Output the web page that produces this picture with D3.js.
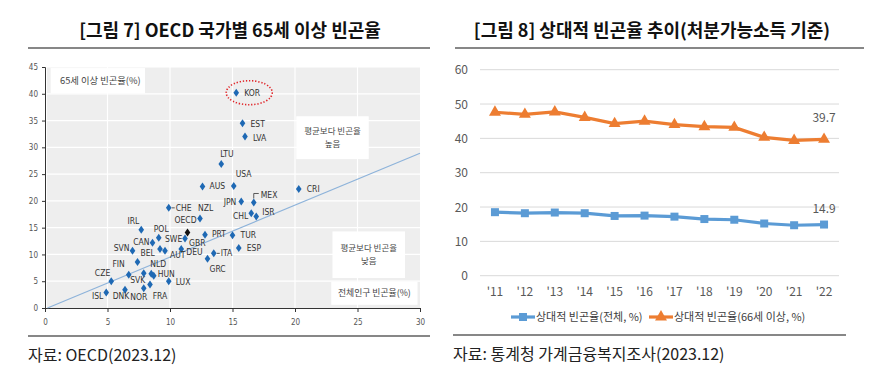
<!DOCTYPE html>
<html>
<head>
<meta charset="utf-8">
<script src="https://cdn.jsdelivr.net/npm/d3@7"></script>
<style>
  body { margin: 0; background: #fff; }
  svg { display: block; }
  .kr { font-family: "Noto Sans CJK KR", "Noto Sans", sans-serif; }
  .nar { font-family: "Liberation Sans Narrow", "DejaVu Sans Condensed", sans-serif; font-stretch: condensed; }
</style>
</head>
<body>
<svg width="872" height="372"></svg>
<script>
// left chart: OECD countries, total vs 65+ poverty rate (%)
const countries = ["KOR","EST","LVA","LTU","USA","AUS","CRI","MEX","JPN","CHL","ISR","TUR","ESP","ITA","GRC","PRT","NZL","CHE","OECD","GBR","DEU","SWE","AUT","POL","IRL","CAN","SVN","BEL","FIN","CZE","ISL","DNK","NOR","FRA","SVK","NLD","HUN","LUX"];
const totalPoverty = [15.3,15.8,16.0,14.1,15.1,12.6,20.3,16.7,15.7,16.5,16.9,15.0,15.5,13.5,13.0,12.8,12.4,9.9,11.4,11.2,10.9,9.2,9.6,9.1,7.7,8.6,7.0,7.4,6.7,5.3,4.9,6.4,7.9,8.4,7.9,8.5,8.7,9.9];
const elderlyPoverty = [40.2,34.5,32.0,26.9,22.8,22.7,22.2,19.7,19.9,17.7,17.1,13.6,11.2,10.2,9.2,13.7,16.7,18.7,14.1,13.0,11.0,11.0,10.7,13.1,14.6,12.2,10.7,8.6,6.2,5.0,2.9,3.4,3.7,4.4,6.5,6.4,6.0,5.0];
const trendLine = [[0.2, 0], [30, 28.9]];
const xTicksLeft = [0,5,10,15,20,25,30];
const yTicksLeft = [0,5,10,15,20,25,30,35,40,45];

// right chart: relative poverty rate trend
const years = ["'11","'12","'13","'14","'15","'16","'17","'18","'19","'20","'21","'22"];
const rateAll = [18.5,18.2,18.4,18.2,17.4,17.5,17.2,16.5,16.3,15.2,14.7,14.9];
const rateElderly = [47.6,47.0,47.7,46.1,44.3,45.0,44.0,43.4,43.2,40.3,39.4,39.7];
const yTicksRight = [0,10,20,30,40,50,60];
const seriesNames = ["상대적 빈곤율(전체, %)", "상대적 빈곤율(66세 이상, %)"];

// label placement for the scatter: [anchor, dx, dy]
const labelPlace = {
  KOR:["start",8,3], EST:["start",8,4], LVA:["start",8,4], LTU:["start",-1,-7],
  USA:["start",2,-9], AUS:["start",7,3], CRI:["start",8,3], MEX:["start",7,-4],
  JPN:["end",-5,4], CHL:["end",-3,6], ISR:["start",6,-1], TUR:["start",8,3],
  ESP:["start",8,3], ITA:["start",7,3], GRC:["start",2,13], PRT:["start",7,2],
  NZL:["start",-2,-8], CHE:["start",7,3], OECD:["middle",-2,-9], GBR:["start",4,8],
  DEU:["start",5,6], SWE:["start",5,-7], AUT:["start",5,7], POL:["start",-5,-6],
  IRL:["end",-2,-6], CAN:["end",-3,2], SVN:["end",-3,0], BEL:["start",3,-6],
  FIN:["end",-4,-8], CZE:["end",-1,-5], ISL:["end",-3,7], DNK:["middle",-4,9],
  NOR:["middle",-5,12], FRA:["middle",10,15], SVK:["middle",-6,10], NLD:["start",-1,-7],
  HUN:["start",4,1], LUX:["start",7,4]
};

const svg = d3.select("svg");

// ---------- titles, rules, sources ----------
svg.append("text").attr("class", "kr")
  .attr("x", 230).attr("y", 37).attr("text-anchor", "middle")
  .attr("font-size", 18).attr("font-weight", 700).attr("fill", "#111")
  .text("[그림 7] OECD 국가별 65세 이상 빈곤율");
svg.append("text").attr("class", "kr")
  .attr("x", 652).attr("y", 37).attr("text-anchor", "middle")
  .attr("font-size", 18).attr("font-weight", 700).attr("fill", "#111")
  .text("[그림 8] 상대적 빈곤율 추이(처분가능소득 기준)");

[[28, 430, 48], [455, 864, 48], [28, 430, 336], [453, 846, 335]].forEach(([x1, x2, y]) => {
  svg.append("line").attr("x1", x1).attr("x2", x2).attr("y1", y).attr("y2", y)
    .attr("stroke", "#111").attr("stroke-width", 1.2);
});

svg.append("text").attr("class", "kr")
  .attr("x", 28).attr("y", 361).attr("font-size", 16).attr("fill", "#222")
  .text("자료: OECD(2023.12)");
svg.append("text").attr("class", "kr")
  .attr("x", 453).attr("y", 360).attr("font-size", 16).attr("fill", "#222")
  .text("자료: 통계청 가계금융복지조사(2023.12)");

// ---------- left scatter ----------
const x = d3.scaleLinear().domain([0, 30]).range([45, 420]);
const y = d3.scaleLinear().domain([0, 45]).range([308, 67]);

const left = svg.append("g");

left.append("rect")
  .attr("x", x(0) + 2).attr("y", y(45))
  .attr("width", x(30) - x(0) - 2).attr("height", y(0) - y(45))
  .attr("fill", "#eeeeee");

left.append("g").selectAll("line").data(yTicksLeft.slice(1)).join("line")
  .attr("x1", x(0) + 2).attr("x2", x(30))
  .attr("y1", d => y(d)).attr("y2", d => y(d))
  .attr("stroke", "#fff").attr("stroke-width", 1.2);
left.append("g").selectAll("line").data(xTicksLeft.slice(1, -1)).join("line")
  .attr("x1", d => x(d)).attr("x2", d => x(d))
  .attr("y1", y(45)).attr("y2", y(0))
  .attr("stroke", "#fff").attr("stroke-width", 1.2);

const yAxisL = left.append("g")
  .attr("transform", `translate(${x(0)},0)`)
  .call(d3.axisLeft(y).tickValues(yTicksLeft).tickSize(3).tickPadding(4));
const xAxisL = left.append("g")
  .attr("transform", `translate(0,${y(0)})`)
  .call(d3.axisBottom(x).tickValues(xTicksLeft).tickSize(4).tickPadding(7));
[yAxisL, xAxisL].forEach(g => {
  g.select(".domain").attr("stroke", "#333");
  g.selectAll(".tick line").attr("stroke", "#333");
  g.selectAll("text").attr("class", "nar").attr("font-size", 8).attr("fill", "#555");
});

// white annotation boxes
const boxes = [
  { x0: 0.45, x1: 8.0, y0: 44.8, y1: 40.1, lines: ["65세 이상 빈곤율(%)"], cx: 1.2, anchor: "start", fs: 9.3 },
  { x0: 20.1, x1: 25.9, y0: 35.8, y1: 27.8, lines: ["평균보다 빈곤율", "높음"], fs: 8.5 },
  { x0: 23.0, x1: 28.8, y0: 14.3, y1: 5.6, lines: ["평균보다 빈곤율", "낮음"], fs: 8.5 },
  { x0: 22.9, x1: 29.8, y0: 4.9, y1: 0.6, lines: ["전체인구 빈곤율(%)"], fs: 8.8 }
];
boxes.forEach(b => {
  left.append("rect")
    .attr("x", x(b.x0)).attr("y", y(b.y0))
    .attr("width", x(b.x1) - x(b.x0)).attr("height", y(b.y1) - y(b.y0))
    .attr("fill", "#fff");
  const midY = (y(b.y0) + y(b.y1)) / 2;
  const tx = b.anchor === "start" ? x(b.cx) : (x(b.x0) + x(b.x1)) / 2;
  b.lines.forEach((t, i) => {
    left.append("text").attr("class", "kr")
      .attr("x", tx)
      .attr("y", midY + 3 + (i - (b.lines.length - 1) / 2) * 12.8)
      .attr("text-anchor", b.anchor || "middle")
      .attr("font-size", b.fs).attr("fill", "#444")
      .text(t);
  });
});

// average trend line
left.append("path")
  .datum(trendLine)
  .attr("d", d3.line().x(d => x(d[0])).y(d => y(d[1])))
  .attr("fill", "none").attr("stroke", "#8db3da").attr("stroke-width", 1.1);

const pts = countries.map((c, i) => ({ c, tx: totalPoverty[i], ey: elderlyPoverty[i] }));

// small leader marks
const leaders = { MEX: "M0,-4V-9H5", ITA: "M3,0H6", CHE: "M3,0H6" };
left.append("g").selectAll("path").data(pts.filter(d => leaders[d.c])).join("path")
  .attr("transform", d => `translate(${x(d.tx)},${y(d.ey)})`)
  .attr("d", d => leaders[d.c])
  .attr("fill", "none").attr("stroke", "#333").attr("stroke-width", 0.8);

left.append("g").selectAll("path").data(pts).join("path")
  .attr("transform", d => `translate(${x(d.tx)},${y(d.ey)})`)
  .attr("d", "M0,-4L2.8,0L0,4L-2.8,0Z")
  .attr("fill", d => d.c === "OECD" ? "#111" : "#1f69b4");

left.append("g").selectAll("text").data(pts).join("text")
  .attr("class", "nar")
  .attr("x", d => x(d.tx) + labelPlace[d.c][1])
  .attr("y", d => y(d.ey) + labelPlace[d.c][2])
  .attr("text-anchor", d => labelPlace[d.c][0])
  .attr("font-size", 8.5).attr("fill", "#333")
  .text(d => d.c);

// KOR highlight
const kor = pts.find(d => d.c === "KOR");
left.append("ellipse")
  .attr("cx", x(kor.tx) + 13).attr("cy", y(kor.ey))
  .attr("rx", 23).attr("ry", 12)
  .attr("fill", "none").attr("stroke", "#e0262a")
  .attr("stroke-width", 1.6).attr("stroke-dasharray", "1.3 1.8");

// ---------- right line chart ----------
const xr = d3.scaleBand().domain(years).range([480, 839]);
const yr = d3.scaleLinear().domain([0, 60]).range([275.7, 69.7]);
const right = svg.append("g");

right.append("g").selectAll("line").data(yTicksRight).join("line")
  .attr("x1", 480).attr("x2", 839)
  .attr("y1", d => yr(d)).attr("y2", d => yr(d))
  .attr("stroke", "#d9d9d9").attr("stroke-width", 1);

right.append("g").selectAll("text").data(yTicksRight).join("text")
  .attr("class", "kr")
  .attr("x", 468).attr("y", d => yr(d) + 4.5)
  .attr("text-anchor", "end").attr("font-size", 12).attr("fill", "#595959")
  .text(d => d);

right.append("g").selectAll("text").data(years).join("text")
  .attr("class", "kr")
  .attr("x", d => xr(d) + xr.bandwidth() / 2).attr("y", 296)
  .attr("text-anchor", "middle").attr("font-size", 12).attr("fill", "#595959")
  .text(d => d);

const cx = d => xr(d) + xr.bandwidth() / 2;
const lineGen = d3.line().x((d, i) => cx(years[i])).y(d => yr(d));

const blue = "#5b9bd5", orange = "#ed7d31";
right.append("path").datum(rateAll).attr("d", lineGen)
  .attr("fill", "none").attr("stroke", blue).attr("stroke-width", 3.2);
right.append("path").datum(rateElderly).attr("d", lineGen)
  .attr("fill", "none").attr("stroke", orange).attr("stroke-width", 3.2);

const sq = d3.symbol().type(d3.symbolSquare).size(64);
const tri = d3.symbol().type(d3.symbolTriangle).size(62);
right.append("g").selectAll("path").data(rateAll).join("path")
  .attr("transform", (d, i) => `translate(${cx(years[i])},${yr(d)})`)
  .attr("d", sq).attr("fill", blue);
right.append("g").selectAll("path").data(rateElderly).join("path")
  .attr("transform", (d, i) => `translate(${cx(years[i])},${yr(d)})`)
  .attr("d", tri).attr("fill", orange);

// end labels
const lastYear = years[years.length - 1];
[[rateElderly, 17], [rateAll, 12]].forEach(([s, off]) => {
  right.append("text").attr("class", "kr")
    .attr("x", cx(lastYear)).attr("y", yr(s[s.length - 1]) - off)
    .attr("text-anchor", "middle").attr("font-size", 12).attr("fill", "#595959")
    .text(s[s.length - 1].toFixed(1));
});

// legend
const legend = right.append("g").attr("transform", "translate(0,317)");
[[511, blue, sq, seriesNames[0]], [649, orange, tri, seriesNames[1]]].forEach(([lx, col, sym, name]) => {
  legend.append("line").attr("x1", lx).attr("x2", lx + 24).attr("y1", 0).attr("y2", 0)
    .attr("stroke", col).attr("stroke-width", 3.2);
  legend.append("path").attr("transform", `translate(${lx + 12},0)`).attr("d", sym).attr("fill", col);
  legend.append("text").attr("class", "kr")
    .attr("x", lx + 25).attr("y", 4)
    .attr("font-size", 11).attr("fill", "#404040")
    .text(name);
});
</script>
</body>
</html>
